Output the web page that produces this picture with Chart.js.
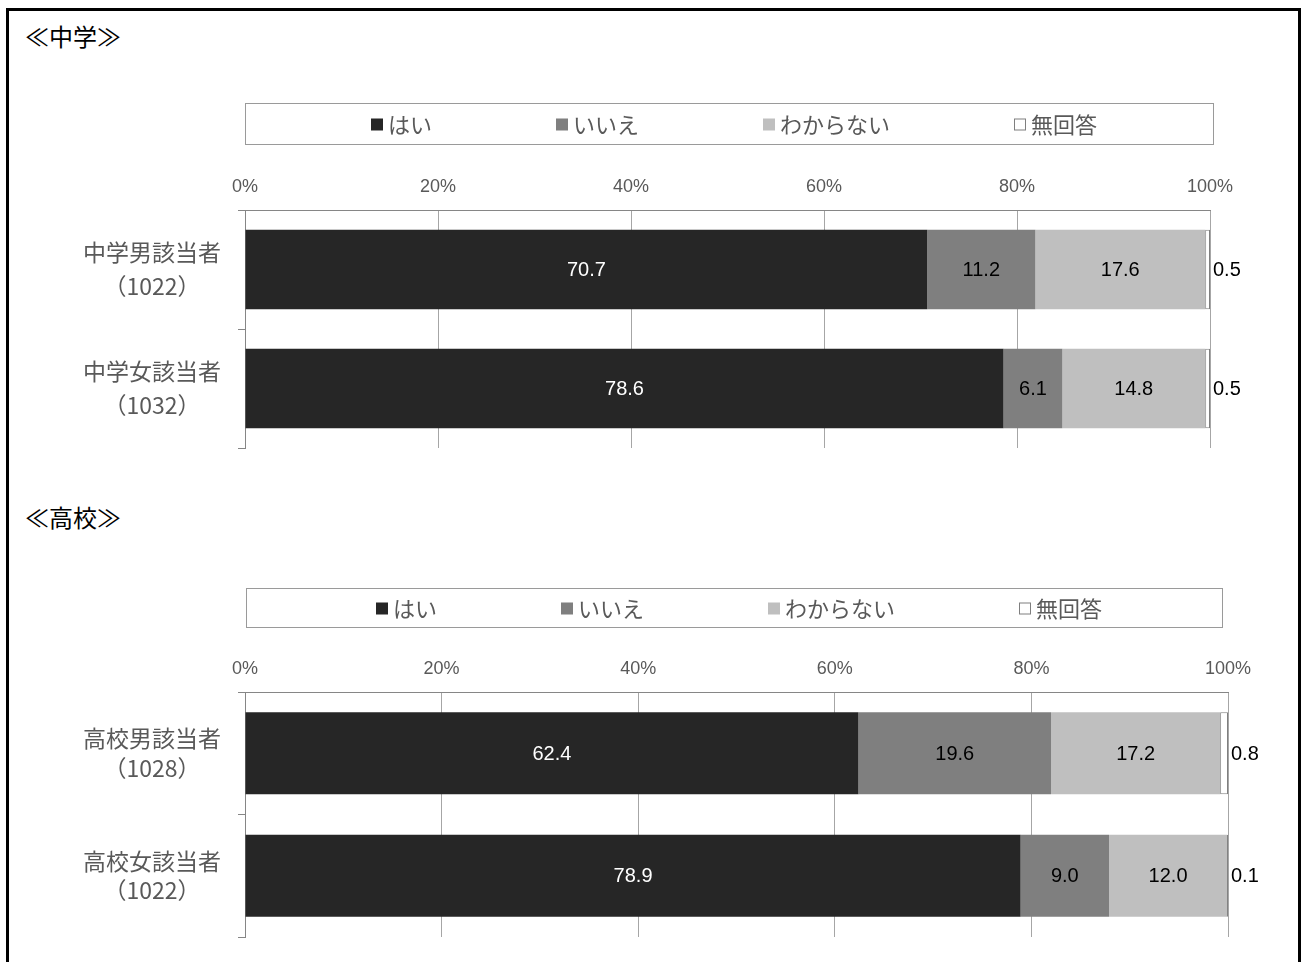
<!DOCTYPE html>
<html lang="ja">
<head>
<meta charset="utf-8">
<title>中学・高校</title>
<script src="https://cdn.jsdelivr.net/npm/chart.js@4.4.1/dist/chart.umd.min.js"></script>
<style>
  html, body { margin: 0; padding: 0; background: #fff; overflow: hidden; }
  body { width: 1308px; height: 962px; position: relative; }
  #frame { position: absolute; left: 6px; top: 8px; width: 1289px; height: 980px; border: 3px solid #000; }
  .title { position: absolute; left: 25px; font: 24px/1 "Noto Sans CJK JP", sans-serif; color: #000; }
  canvas { position: absolute; left: 0; }
</style>
</head>
<body>
<div id="frame"></div>
<div class="title" style="top:24px">≪中学≫</div>
<div class="title" style="top:505px">≪高校≫</div>
<canvas id="chartJH" width="1308" height="380" style="top:90px"></canvas>
<canvas id="chartHS" width="1308" height="385" style="top:575px"></canvas>
<script>
// series names (legend)
const seriesNames = ['はい', 'いいえ', 'わからない', '無回答'];

// 中学
const categoriesJH = [['中学男該当者', '（1022）'], ['中学女該当者', '（1032）']];
const jhYes = [70.7, 78.6];
const jhNo = [11.2, 6.1];
const jhUnknown = [17.6, 14.8];
const jhNoAnswer = [0.5, 0.5];

// 高校
const categoriesHS = [['高校男該当者', '（1028）'], ['高校女該当者', '（1022）']];
const hsYes = [62.4, 78.9];
const hsNo = [19.6, 9.0];
const hsUnknown = [17.2, 12.0];
const hsNoAnswer = [0.8, 0.1];

// x axis ticks
const tickValues = [0, 20, 40, 60, 80, 100];

const seriesColors = ['#262626', '#7f7f7f', '#bfbfbf', '#ffffff'];
const JP_FONT = '"Noto Sans CJK JP", sans-serif';

// value labels inside the bars, last series outside on the right
const valueLabels = {
    id: 'valueLabels',
    afterDatasetsDraw(chart) {
        const ctx = chart.ctx;
        ctx.save();
        ctx.font = '20px "Liberation Sans", Arial, sans-serif';
        ctx.textBaseline = 'middle';
        chart.data.datasets.forEach((ds, i) => {
            const meta = chart.getDatasetMeta(i);
            meta.data.forEach((bar, j) => {
                const text = ds.data[j].toFixed(1);
                if (i === 3) {
                    ctx.textAlign = 'left';
                    ctx.fillStyle = '#000';
                    ctx.fillText(text, bar.x + 3, bar.y + 1);
                } else {
                    ctx.textAlign = 'center';
                    ctx.fillStyle = i === 0 ? '#fff' : '#000';
                    ctx.fillText(text, (bar.x + bar.base) / 2, bar.y + 1);
                }
            });
        });
        ctx.restore();
    }
};

// legend drawn inside a framed box
const boxLegend = {
    id: 'boxLegend',
    afterDraw(chart, args, opts) {
        const ctx = chart.ctx;
        const box = opts.box;
        ctx.save();
        ctx.strokeStyle = '#9a9a9a';
        ctx.lineWidth = 1;
        ctx.strokeRect(box.left + 0.5, box.top + 0.5, box.right - box.left, box.bottom - box.top);

        ctx.font = '22px ' + JP_FONT;
        ctx.textBaseline = 'middle';
        ctx.textAlign = 'left';
        const marker = 12, markerGap = 5, gap = 124;
        const widths = chart.data.datasets.map(ds => marker + markerGap + ctx.measureText(ds.label).width);
        const total = widths.reduce((a, b) => a + b, 0) + gap * (widths.length - 1);
        let x = (box.left + box.right) / 2 + 5 - total / 2;
        const cy = (box.top + box.bottom) / 2 + 1;
        chart.data.datasets.forEach((ds, i) => {
            ctx.fillStyle = ds.backgroundColor;
            ctx.fillRect(x, cy - marker / 2, marker, marker);
            if (ds.borderWidth) {
                ctx.strokeStyle = '#7f7f7f';
                ctx.strokeRect(x + 0.5, cy - marker / 2 + 0.5, marker - 1, marker - 1);
            }
            ctx.fillStyle = '#595959';
            ctx.fillText(ds.label, x + marker + markerGap, cy);
            x += widths[i] + gap;
        });
        ctx.restore();
    }
};

function makeChart(canvasId, categories, series, layout) {
    const datasets = series.map((values, i) => ({
        label: seriesNames[i],
        data: values,
        backgroundColor: seriesColors[i],
        borderColor: '#7f7f7f',
        borderWidth: i === 3 ? 1 : 0,
        borderSkipped: false,
        barPercentage: 0.67,
        categoryPercentage: 1
    }));

    return new Chart(document.getElementById(canvasId), {
        type: 'bar',
        data: { labels: categories, datasets: datasets },
        options: {
            indexAxis: 'y',
            responsive: false,
            animation: false,
            devicePixelRatio: 1,
            layout: { padding: layout.padding },
            scales: {
                x: {
                    position: 'top',
                    stacked: true,
                    min: 0,
                    max: 100,
                    afterBuildTicks: (scale) => { scale.ticks = tickValues.map(v => ({ value: v })); },
                    afterFit: (scale) => {
                        scale.height = 36;
                        scale.paddingLeft = 0;
                        scale.paddingRight = 0;
                    },
                    grid: { color: '#a6a6a6', drawTicks: false },
                    border: { color: '#868686' },
                    ticks: {
                        padding: 12,
                        maxRotation: 0,
                        autoSkip: false,
                        color: '#595959',
                        font: { family: '"Liberation Sans", Arial, sans-serif', size: 18 },
                        callback: (v) => v + '%'
                    }
                },
                y: {
                    stacked: true,
                    afterFit: (scale) => {
                        scale.width = 245;
                        scale.paddingTop = 0;
                        scale.paddingBottom = 0;
                    },
                    grid: { drawOnChartArea: false, drawTicks: true, tickLength: 7, color: '#868686', offset: true },
                    border: { color: '#868686' },
                    ticks: {
                        crossAlign: 'center',
                        padding: 17,
                        color: '#595959',
                        font: { family: JP_FONT, size: 23, lineHeight: layout.labelLineHeight }
                    }
                }
            },
            plugins: {
                legend: { display: false },
                tooltip: { enabled: false },
                boxLegend: { box: layout.legendBox }
            }
        },
        plugins: [valueLabels, boxLegend]
    });
}

makeChart('chartJH', categoriesJH, [jhYes, jhNo, jhUnknown, jhNoAnswer], {
    padding: { top: 84, left: 0, right: 98, bottom: 22 },
    labelLineHeight: 1.48,
    legendBox: { left: 245, right: 1213, top: 13, bottom: 54 }
});

makeChart('chartHS', categoriesHS, [hsYes, hsNo, hsUnknown, hsNoAnswer], {
    padding: { top: 81, left: 0, right: 80, bottom: 23 },
    labelLineHeight: 1.3,
    legendBox: { left: 246, right: 1222, top: 13, bottom: 52 }
});
</script>
</body>
</html>
